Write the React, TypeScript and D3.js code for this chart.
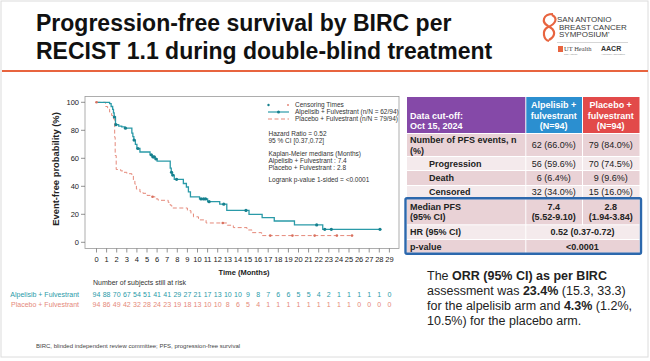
import * as d3 from "d3";
import React from "react";

const FONT = "'Liberation Sans', Arial, sans-serif";

// Kaplan-Meier steps: [month, survival %] (value from that month onward)
const alpelisibSteps: [number, number][] = [
  [0, 100], [1.3, 99], [1.45, 97], [1.6, 95], [1.68, 92.5], [1.75, 89.5], [1.88, 84],
  [2.2, 83], [2.5, 82.5], [2.8, 81.5], [3.5, 78], [3.6, 75.5], [3.7, 73], [3.85, 70],
  [4.0, 67], [4.3, 64.5], [5.3, 62.5], [5.5, 61], [5.8, 59.5], [6.0, 58], [7.3, 53],
  [7.4, 50], [7.5, 48], [7.7, 45], [8.6, 42], [8.9, 39.5], [9.1, 36], [9.3, 32.5],
  [10.2, 31], [11.0, 29], [12.2, 27.2], [12.9, 22.8], [15.1, 20], [16.4, 17.6],
  [17.6, 15.2], [19.6, 12.4], [22.4, 9.3], [28.07, 9.3],
];
const placeboSteps: [number, number][] = [
  [0, 100], [0.9, 97], [1.1, 95], [1.3, 93], [1.5, 90.5], [1.7, 88], [1.8, 75],
  [1.85, 62], [1.95, 52], [2.4, 51], [2.7, 50], [3.0, 49], [3.5, 48], [3.65, 44],
  [3.8, 41.5], [3.95, 38], [4.3, 36], [4.6, 35], [5.0, 33.5], [5.4, 32.5], [5.8, 31],
  [6.1, 30], [7.1, 28.5], [7.3, 26.5], [7.45, 24.5], [9.0, 22.6], [9.35, 20.3],
  [9.6, 18.2], [10.1, 16], [10.85, 13.8], [12.95, 12.2], [13.55, 10.5], [14.9, 8.8],
  [15.4, 6.9], [16.35, 4.8], [25.4, 4.8],
];
const alpelisibCensored = [1.77, 1.92, 2.87, 3.72, 4.1, 5.43, 5.6, 5.72, 5.9, 7.43, 7.55,
  7.93, 10.35, 10.6, 10.8, 11.15, 12.6, 14.8, 21.8, 22.6, 23.25, 28.07];
const placeboCensored = [0, 5.55, 12.5, 17.2, 19.4, 21.6, 23.8, 25.3];

const months = d3.range(0, 30);
const yTicks = [0, 20, 40, 60, 80, 100];
const alpelisibRisk = [94, 88, 70, 67, 54, 51, 41, 41, 29, 27, 21, 17, 13, 10, 10, 9, 8, 7, 6, 6, 5, 5, 4, 2, 1, 1, 1, 1, 1, 0];
const placeboRisk = [94, 86, 49, 42, 32, 28, 24, 23, 19, 18, 13, 10, 10, 8, 6, 5, 4, 1, 1, 1, 1, 1, 1, 1, 1, 1, 0, 0, 0, 0];

const legendRows = ["Censoring Times", "Alpelisib + Fulvestrant (n/N = 62/94)", "Placebo + Fulvestrant (n/N = 79/94)"];
const statLines = [
  ["Hazard Ratio = 0.52", "95 % CI [0.37,0.72]"],
  ["Kaplan-Meier medians (Months)", "Alpelisib + Fulvestrant : 7.4", "Placebo + Fulvestrant : 2.8"],
  ["Logrank p-value 1-sided = <0.0001"],
];

// table
const headerCut = ["Data cut-off:", "Oct 15, 2024"];
const headerAlp = ["Alpelisib +", "fulvestrant", "(N=94)"];
const headerPla = ["Placebo +", "fulvestrant", "(N=94)"];
const rowLabels = [["Number of PFS events, n", "(%)"], ["Progression"], ["Death"], ["Censored"], ["Median PFS", "(95% CI)"], ["HR (95% CI)"], ["p-value"]];
const alpValues = [["62 (66.0%)"], ["56 (59.6%)"], ["6 (6.4%)"], ["32 (34.0%)"], ["7.4", "(5.52-9.10)"], null, null];
const plaValues = [["79 (84.0%)"], ["70 (74.5%)"], ["9 (9.6%)"], ["15 (16.0%)"], ["2.8", "(1.94-3.84)"], null, null];
const mergedValues = [null, null, null, null, null, "0.52 (0.37-0.72)", "<0.0001"];

const TEAL = "#2a9aa8";
const TEAL_DARK = "#16808e";
const SALMON = "#e5897a";

function survivalAt(steps: [number, number][], t: number) {
  let s = steps[0][1];
  for (const [m, v] of steps) if (m <= t) s = v;
  return s;
}

export default function App() {
  const x = d3.scaleLinear().domain([0, 29]).range([96.5, 389.4]);
  const y = d3.scaleLinear().domain([0, 100]).range([242.3, 102.3]);
  const line = d3.line<[number, number]>().x((d) => x(d[0])).y((d) => y(d[1])).curve(d3.curveStepAfter);

  // table layout
  const tx = [407, 525.3, 582, 639.5];
  const rowH = [36, 23, 14, 15, 13.3, 26, 14.7, 13.7];
  const ry = [97];
  rowH.forEach((h) => ry.push(ry[ry.length - 1] + h));
  const c2 = (tx[1] + tx[2]) / 2, c3 = (tx[2] + tx[3]) / 2, c23 = (tx[1] + tx[3]) / 2;
  const pink = "#e9d2d6", pale = "#f4eaec";

  return (
    <svg width={650} height={361} style={{ position: "absolute", left: 0, top: 0, fontFamily: FONT }}>
      <rect x={0} y={0} width={650} height={361} fill="#fff" />
      <rect x={1} y={1} width={647} height={356} fill="none" stroke="#dcdcdc" />

      {/* title */}
      <g fontWeight="bold" fontSize={23} fill="#111">
        <text x={36} y={31}>Progression-free survival by BIRC per</text>
        <text x={36} y={59}>RECIST 1.1 during double-blind treatment</text>
      </g>
      <line x1={2} x2={648} y1={71} y2={71} stroke="#e8643f" strokeWidth={2} />

      {/* logo */}
      <g>
        <path d="M553,14 C543,14 541,22 548,26 C556,30 556,36 549,40 M552,15 C558,18 556,24 548,27 C541,31 544,40 549,41"
          fill="none" stroke="#e8643f" strokeWidth={2.2} />
        <g fontSize={8} fill="#3a3a3a" fontFamily="'Liberation Sans Narrow', 'Liberation Sans', sans-serif">
          <text x={557} y={22}>SAN ANTONIO</text>
          <text x={559} y={29.5}>BREAST CANCER</text>
          <text x={559} y={37}>SYMPOSIUM'</text>
        </g>
        <line x1={557} x2={628} y1={42.5} y2={42.5} stroke="#bbb" strokeWidth={0.6} />
        <rect x={558} y={46} width={5} height={6} fill="#e8643f" />
        <text x={564} y={51} fontSize={6.5} fontFamily="'Liberation Serif', serif" fill="#444">UT Health</text>
        <text x={564} y={55} fontSize={2.5} fill="#888">San Antonio</text>
        <text x={601} y={51} fontSize={7} fontWeight="bold" fill="#333">AACR</text>
        <text x={601} y={55} fontSize={2.5} fill="#888">American Association</text>
      </g>

      {/* plot frame */}
      <rect x={85} y={96.5} width={314} height={152} fill="none" stroke="#999" strokeWidth={0.8} />
      <g fontSize={7.5} fill="#222">
        {yTicks.map((t) => (
          <g key={t}>
            <line x1={81} x2={85} y1={y(t)} y2={y(t)} stroke="#666" strokeWidth={0.7} />
            <text x={79} y={y(t)} dy="0.35em" textAnchor="end">{t}</text>
          </g>
        ))}
        {months.map((m) => (
          <g key={m}>
            <line x1={x(m)} x2={x(m)} y1={248.5} y2={252.5} stroke="#666" strokeWidth={0.7} />
            <text x={x(m)} y={259} dy="0.35em" textAnchor="middle">{m}</text>
          </g>
        ))}
      </g>
      <text transform="translate(56,169) rotate(-90)" textAnchor="middle" dy="0.35em" fontSize={9.4} fontWeight="bold" fill="#222">
        Event-free probability (%)
      </text>
      <text x={244} y={272.5} dy="0.35em" textAnchor="middle" fontSize={7.5} fontWeight="bold" fill="#222">Time (Months)</text>

      {/* curves */}
      <path d={line(placeboSteps) || ""} fill="none" stroke={SALMON} strokeWidth={1} strokeDasharray="4,2.5" />
      <path d={line(alpelisibSteps) || ""} fill="none" stroke={TEAL} strokeWidth={1.3} />
      {placeboCensored.map((t, i) => (
        <circle key={"p" + i} cx={x(t)} cy={y(survivalAt(placeboSteps, t))} r={1.3} fill="#d9715f" />
      ))}
      {alpelisibCensored.map((t, i) => (
        <circle key={"a" + i} cx={x(t)} cy={y(survivalAt(alpelisibSteps, t))} r={1.6} fill={TEAL_DARK} />
      ))}

      {/* legend */}
      <g fontSize={6.5} fill="#333">
        <circle cx={268.5} cy={105} r={1.2} fill={TEAL_DARK} />
        <circle cx={288} cy={105} r={1} fill={SALMON} />
        <line x1={268} x2={289} y1={112} y2={112} stroke={TEAL} strokeWidth={1.2} />
        <circle cx={278.5} cy={112} r={1.5} fill={TEAL_DARK} />
        <line x1={268} x2={289} y1={119} y2={119} stroke={SALMON} strokeWidth={1} strokeDasharray="4,2.5" />
        {legendRows.map((r, i) => (
          <text key={r} x={295} y={105 + i * 7} dy="0.35em">{r}</text>
        ))}
        {statLines.map((grp, gi) =>
          grp.map((s, li) => (
            <text key={s} x={268.5} y={[133.5, 154, 180][gi] + li * 7} dy="0.35em">{s}</text>
          ))
        )}
      </g>

      {/* number at risk */}
      <g fontSize={7} >
        <text x={93} y={282.7} dy="0.35em" fill="#333">Number of subjects still at risk</text>
        <text x={79} y={295} dy="0.35em" textAnchor="end" fill={TEAL}>Alpelisib + Fulvestrant</text>
        <text x={79} y={304.3} dy="0.35em" textAnchor="end" fill={SALMON}>Placebo + Fulvestrant</text>
        {alpelisibRisk.map((n, i) => (
          <text key={"ar" + i} x={x(months[i])} y={295} dy="0.35em" textAnchor="middle" fill={TEAL}>{n}</text>
        ))}
        {placeboRisk.map((n, i) => (
          <text key={"pr" + i} x={x(months[i])} y={304.3} dy="0.35em" textAnchor="middle" fill={SALMON}>{n}</text>
        ))}
      </g>

      {/* table */}
      <g fontSize={9}>
        <rect x={tx[0]} y={ry[0]} width={tx[1] - tx[0]} height={rowH[0]} fill="#8549a8" />
        <rect x={tx[1] + 1} y={ry[0]} width={tx[2] - tx[1] - 1} height={rowH[0]} fill="#2b8fd0" />
        <rect x={tx[2] + 1} y={ry[0]} width={tx[3] - tx[2] - 1} height={rowH[0]} fill="#e24a4a" />
        {headerCut.map((s, i) => (
          <text key={s} x={410} y={115.7 + i * 10.3} dy="0.35em" fill="#fff" fontWeight="bold">{s}</text>
        ))}
        {headerAlp.map((s, i) => (
          <text key={"ha" + i} x={c2} y={105 + i * 10.4} dy="0.35em" textAnchor="middle" fill="#fff" fontWeight="bold">{s}</text>
        ))}
        {headerPla.map((s, i) => (
          <text key={"hp" + i} x={c3} y={105 + i * 10.4} dy="0.35em" textAnchor="middle" fill="#fff" fontWeight="bold">{s}</text>
        ))}
        {rowLabels.map((lab, r) => {
          const top = ry[r + 1] + 1;
          const h = rowH[r + 1] - 1;
          const fill = r % 2 === 0 ? pink : pale;
          const mid = top + h / 2;
          const indent = r >= 1 && r <= 3;
          const bold = r >= 4;
          const lines = (arr: string[] | null, cx: number) =>
            arr && arr.map((s, li) => (
              <text key={s + li} x={cx} y={mid + (li - (arr.length - 1) / 2) * 10.7} dy="0.35em" textAnchor="middle"
                fill="#222" fontWeight={bold ? "bold" : "normal"}>{s}</text>
            ));
          return (
            <g key={r}>
              <rect x={tx[0]} y={top} width={tx[1] - tx[0]} height={h} fill={fill} />
              {mergedValues[r] ? (
                <rect x={tx[1] + 1} y={top} width={tx[3] - tx[1] - 1} height={h} fill={fill} />
              ) : (
                <>
                  <rect x={tx[1] + 1} y={top} width={tx[2] - tx[1] - 1} height={h} fill={fill} />
                  <rect x={tx[2] + 1} y={top} width={tx[3] - tx[2] - 1} height={h} fill={fill} />
                </>
              )}
              {lab.map((s, li) => (
                <text key={s} x={indent ? 429 : 410} y={mid + (li - (lab.length - 1) / 2) * 10.7} dy="0.35em"
                  fill="#222" fontWeight="bold">{s}</text>
              ))}
              {lines(alpValues[r], c2)}
              {lines(plaValues[r], c3)}
              {mergedValues[r] && (
                <text x={c23} y={mid} dy="0.35em" textAnchor="middle" fill="#222" fontWeight="bold">{mergedValues[r]}</text>
              )}
            </g>
          );
        })}
        <rect x={405.5} y={ry[5]} width={235.5} height={ry[8] - ry[5] + 1} fill="none" stroke="#2c68ad" strokeWidth={2.4} rx={1.5} />
      </g>

      {/* ORR text */}
      <g fontSize={12.5} fill="#222">
        <text x={427} y={275.7} dy="0.35em">The <tspan fontWeight="bold">ORR (95% CI) as per BIRC</tspan></text>
        <text x={427} y={291} dy="0.35em">assessment was <tspan fontWeight="bold">23.4%</tspan> (15.3, 33.3)</text>
        <text x={427} y={306} dy="0.35em">for the alpelisib arm and <tspan fontWeight="bold">4.3%</tspan> (1.2%,</text>
        <text x={427} y={321} dy="0.35em">10.5%) for the placebo arm.</text>
      </g>

      <text x={36} y={346} dy="0.35em" fontSize={6} fill="#444">
        BIRC, blinded independent review committee; PFS, progression-free survival
      </text>
    </svg>
  );
}
